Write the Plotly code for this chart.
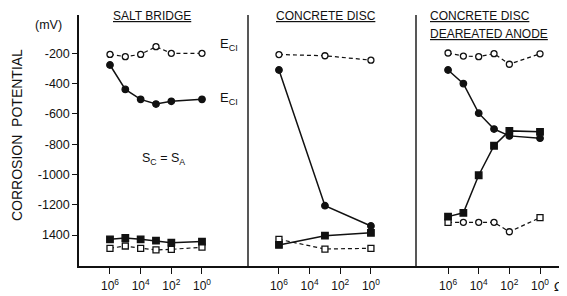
import plotly.graph_objects as go

# ---------------- data ----------------
panel_titles = ["SALT BRIDGE", "CONCRETE DISC", "CONCRETE DISC", "DEAREATED ANODE"]

x_salt = [1e6, 1e5, 1e4, 1e3, 1e2, 1e0]
salt_open_circ = [-207, -222, -207, -156, -200, -200]
salt_fill_circ = [-277, -438, -504, -535, -517, -504]
salt_fill_sq = [-1428, -1419, -1428, -1437, -1450, -1443]
salt_open_sq = [-1487, -1472, -1487, -1498, -1494, -1480]

x_disc = [1e6, 1e3, 1e0]
disc_open_circ = [-208, -216, -245]
disc_fill_circ = [-310, -1206, -1340]
disc_fill_sq = [-1465, -1404, -1385]
disc_open_sq = [-1428, -1492, -1487]

x_dea = [1e6, 1e5, 1e4, 1e3, 1e2, 1e0]
dea_open_circ = [-198, -218, -222, -202, -272, -203]
dea_fill_circ = [-310, -400, -595, -700, -745, -760]
dea_fill_sq = [-1278, -1253, -1005, -810, -712, -718]
dea_open_sq = [-1316, -1316, -1316, -1316, -1378, -1285]

y_tickvals = [-200, -400, -600, -800, -1000, -1200, -1400]
y_ticktext = ["-200", "-400", "-600", "-800", "-1000", "-1200", "1400"]
x_tickvals = [1e6, 1e4, 1e2, 1e0]
x_ticktext = ["10<sup>6</sup>", "10<sup>4</sup>", "10<sup>2</sup>", "10<sup>0</sup>"]
x_unit = "\u03a9"

# ---------------- figure ----------------
INK = "#111111"
FONT = "Liberation Sans, Arial, sans-serif"
BODY = 8                      # default page body margin (px)
W, H = 567, 296
# plot area in page pixels: x 79..567, y 15..266
PL, PR, PT, PB = 79, 567, 15, 266
ML, MT = PL - BODY, PT - BODY
MR, MB = W - (PR - BODY), H - (PB - BODY)
PW, PH = PR - PL, PB - PT

def px2paper(x):
    return (x - PL) / PW

def py2paper(y):
    return 1 - (y - PT) / PH

fig = go.Figure()

def add_series(xs, ys, axis, filled, symbol, dashed, symbols=None):
    marker = dict(size=6.5 if filled else 6,
                  symbol=symbols if symbols else symbol,
                  color=INK if filled else "white",
                  line=dict(color=INK, width=1.3))
    fig.add_trace(go.Scatter(
        x=xs, y=ys, xaxis=axis, yaxis="y", mode="lines+markers",
        line=dict(color=INK, width=1.5 if not dashed else 1.2,
                  dash="4px,3px" if dashed else "solid"),
        marker=marker, showlegend=False, hoverinfo="skip"))

# Panel 1
add_series(x_salt, salt_open_circ, "x", False, "circle", True)
add_series(x_salt, salt_fill_circ, "x", True, "circle", False)
add_series(x_salt, salt_open_sq, "x", False, "square", True)
add_series(x_salt, salt_fill_sq, "x", True, "square", False)
# Panel 2
add_series(x_disc, disc_open_circ, "x2", False, "circle", True)
add_series(x_disc, disc_fill_circ, "x2", True, "circle", False)
add_series(x_disc, disc_open_sq, "x2", False, "square", True)
add_series(x_disc, disc_fill_sq, "x2", True, "square", False)
# Panel 3
add_series(x_dea, dea_open_circ, "x3", False, "circle", True)
add_series(x_dea, dea_fill_circ, "x3", True, "circle", False)
add_series(x_dea, dea_open_sq, "x3", False, "square", True,
           symbols=["square", "circle", "circle", "circle", "circle", "square"])
add_series(x_dea, dea_fill_sq, "x3", True, "square", False)

sep1, sep2 = px2paper(248), px2paper(416)

def xaxis(domain, rng):
    return dict(domain=domain, type="log", range=rng, anchor="y",
                tickvals=x_tickvals, ticktext=x_ticktext,
                ticks="outside", ticklen=6, tickwidth=1.2, tickcolor=INK,
                ticklabelstandoff=2, automargin=False,
                showline=True, linecolor=INK, linewidth=1.5,
                showgrid=False, zeroline=False,
                tickfont=dict(family=FONT, size=12, color=INK))

fig.update_layout(
    template="none",
    width=W, height=H,
    margin=dict(l=ML, r=MR, t=MT, b=MB, autoexpand=False),
    paper_bgcolor="white", plot_bgcolor="white",
    xaxis=xaxis([0, sep1], [8.02, -3.0]),
    xaxis2=xaxis([sep1, sep2], [8.02, -2.94]),
    xaxis3=xaxis([sep2, 1], [8.09, -1.76]),
    yaxis=dict(range=[-1604, 53], anchor="x", automargin=False,
               tickvals=y_tickvals, ticktext=y_ticktext,
               ticks="outside", ticklen=5, tickwidth=1.2, tickcolor=INK,
               showline=True, linecolor=INK, linewidth=1.5,
               showgrid=False, zeroline=False,
               tickfont=dict(family=FONT, size=12.5, color=INK)),
    showlegend=False,
)

# separators
for s in (sep1, sep2):
    fig.add_shape(type="line", xref="paper", yref="paper", x0=s, x1=s, y0=0, y1=1,
                  line=dict(color=INK, width=1.4))

def ann(text, x, y, size=12, xanchor="center", yanchor="middle", angle=0, family=FONT):
    fig.add_annotation(text=text, x=px2paper(x), y=py2paper(y),
                       xref="paper", yref="paper", showarrow=False,
                       xanchor=xanchor, yanchor=yanchor, textangle=angle,
                       font=dict(family=family, size=size, color=INK))

ann("<u>" + panel_titles[0] + "</u>", 152, 16, size=12)
ann("<u>" + panel_titles[1] + "</u>", 326, 16, size=12)
ann("<u>" + panel_titles[2] + "</u>", 428, 16, size=12, xanchor="left")
ann("<u>" + panel_titles[3] + "</u>", 428, 34, size=12, xanchor="left")

ann("(mV)", 48, 25, size=12.5)
ann("CORROSION  POTENTIAL", 17, 135, size=14, angle=-90)
ann("E<sub>CI</sub>", 218, 44, size=13, xanchor="left")
ann("E<sub>CI</sub>", 218, 99, size=13, xanchor="left")
ann("S<sub>C</sub> = S<sub>A</sub>", 163, 159, size=12.5)
ann(x_unit, 559, 286, size=13, family="DejaVu Sans, Liberation Sans, sans-serif")

fig.write_html("out.html")
